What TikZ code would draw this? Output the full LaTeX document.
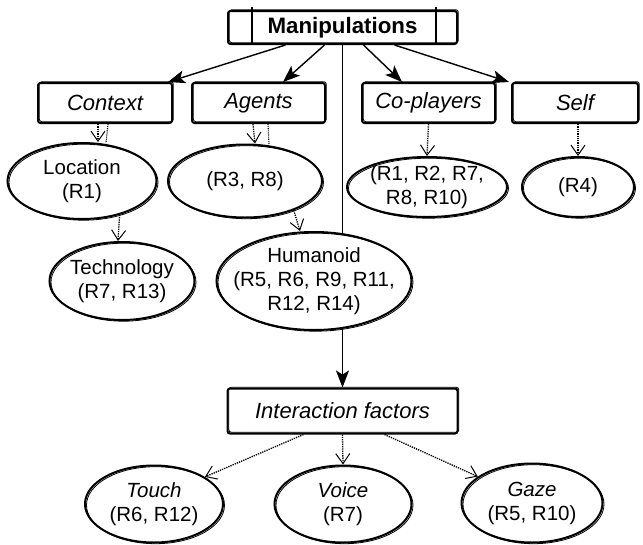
\documentclass[tikz,border=0pt]{standalone}
\usepackage{fontspec}
\setmainfont{Liberation Sans}
\usetikzlibrary{arrows.meta,shapes.geometric,backgrounds,calc}
\begin{document}
\begin{tikzpicture}[x=1pt,y=-1pt,
  % hand-drawn looking rectangles: a heavy stroke plus a thin, slightly shifted one
  sketchbox/.style={draw, line width=2pt, rounded corners=2.5pt, fill=white, inner sep=0pt,
    postaction={draw, line width=0.8pt, rounded corners=2.5pt,
      transform canvas={shift={(1.3pt,1.3pt)}}}},
  catbox/.style={sketchbox, minimum height=40, font=\fontsize{22}{26}\selectfont\itshape},
  mainbox/.style={sketchbox, font=\fontsize{22.3}{26}\selectfont\bfseries},
  % hand-drawn looking ellipses; negative inner sep lets the given size rule
  oval/.style={ellipse, draw, line width=2pt, fill=white, inner xsep=-14pt, inner ysep=-8pt,
    align=center, font=\fontsize{20.5}{24}\selectfont,
    postaction={draw, line width=0.8pt, transform canvas={shift={(1.5pt,-1.2pt)}}}},
  solidarrow/.style={line width=1.4pt, -{Stealth[length=17pt,width=13pt,inset=4pt]}},
  dotarrow/.style={line width=1.3pt, densely dotted,
    -{Straight Barb[length=10pt,width=14pt,line width=1pt]}},
  strand/.style={line width=1.1pt, densely dotted}
]
\useasboundingbox (0,0) rectangle (643,544);

% top
\node[mainbox, minimum width=229, minimum height=33] (manip) at (342.5,27.5) {Manipulations};
\draw[line width=1.5pt] ([xshift=25pt,yshift=3pt]manip.north west) -- ([xshift=25pt]manip.south west);
\draw[line width=1.5pt] ([xshift=-22pt,yshift=3pt]manip.north east) -- ([xshift=-22pt]manip.south east);

% categories
\node[catbox, minimum width=134] (context)   at (105,103)   {Context};
\node[catbox, minimum width=133] (agents)    at (258.5,103) {Agents};
\node[catbox, minimum width=133] (coplayers) at (428.5,103) {Co-players};
\node[catbox, minimum width=126] (self)      at (575,103)   {Self};

% second level
\node[oval, minimum width=149, minimum height=76] (loc)  at (82,181)  {Location\\(R1)};
\node[oval, minimum width=154, minimum height=73] (r38)  at (245,181) {(R3, R8)};
\node[oval, minimum width=160, minimum height=60] (cop)  at (427,187) {(R1, R2, R7,\\R8, R10)};
\node[oval, minimum width=112, minimum height=60] (r4)   at (578,187) {(R4)};
\node[oval, minimum width=145, minimum height=78] (tech) at (122,281) {Technology\\(R7, R13)};
\node[oval, minimum width=195, minimum height=98] (hum)  at (314,281) {Humanoid\\(R5, R6, R9, R11,\\R12, R14)};

% interaction factors
\node[catbox, minimum width=230, minimum height=45] (inter) at (342.5,411) {Interaction factors};
\node[oval, minimum width=138, minimum height=77] (touch) at (154,504) {\textit{Touch}\\(R6, R12)};
\node[oval, minimum width=137, minimum height=77] (voice) at (343,504) {\textit{Voice}\\(R7)};
\node[oval, minimum width=141, minimum height=79] (gaze)  at (532,503) {\textit{Gaze}\\(R5, R10)};

% spine behind the humanoid oval
\begin{pgfonlayer}{background}
\draw[solidarrow] (manip.south) -- (inter.north);
\end{pgfonlayer}

% solid connectors from the top box
\draw[solidarrow] ([xshift=-57pt]manip.south) -- ([xshift=-5pt]context.north east);
\draw[solidarrow] ([xshift=-18pt]manip.south) -- ([xshift=24.5pt]agents.north);
\draw[solidarrow] ([xshift=21pt]manip.south)  -- ([xshift=-26.5pt]coplayers.north);
\draw[solidarrow] ([xshift=52pt]manip.south)  -- ([xshift=-2pt]self.north west);

% dotted connectors
\draw[dotarrow] ([xshift=-7pt]context.south) -- ([xshift=16pt]loc.north);
\draw[strand]   ([xshift=3pt]context.south) -- ([xshift=24pt,yshift=-1pt]loc.north);
\draw[dotarrow] ([xshift=-5.5pt]agents.south) -- ([xshift=10pt]r38.north);
\draw[strand]   ([xshift=9.5pt]agents.south) -- ([xshift=24pt,yshift=-1pt]r38.north);
\draw[dotarrow] (coplayers.south) -- (cop.north);
\draw[dotarrow] ([xshift=3pt]self.south) -- (r4.north);
\draw[dotarrow] (loc.-42) -- ([xshift=-4pt]tech.north);
\draw[dotarrow] (r38.-31) -- ([xshift=-14pt]hum.north);
\draw[dotarrow] ([xshift=-39pt]inter.south) -- (touch.28);
\draw[dotarrow] (inter.south) -- (voice.north);
\draw[dotarrow] ([xshift=42pt]inter.south) -- (gaze.154);
\end{tikzpicture}
\end{document}
